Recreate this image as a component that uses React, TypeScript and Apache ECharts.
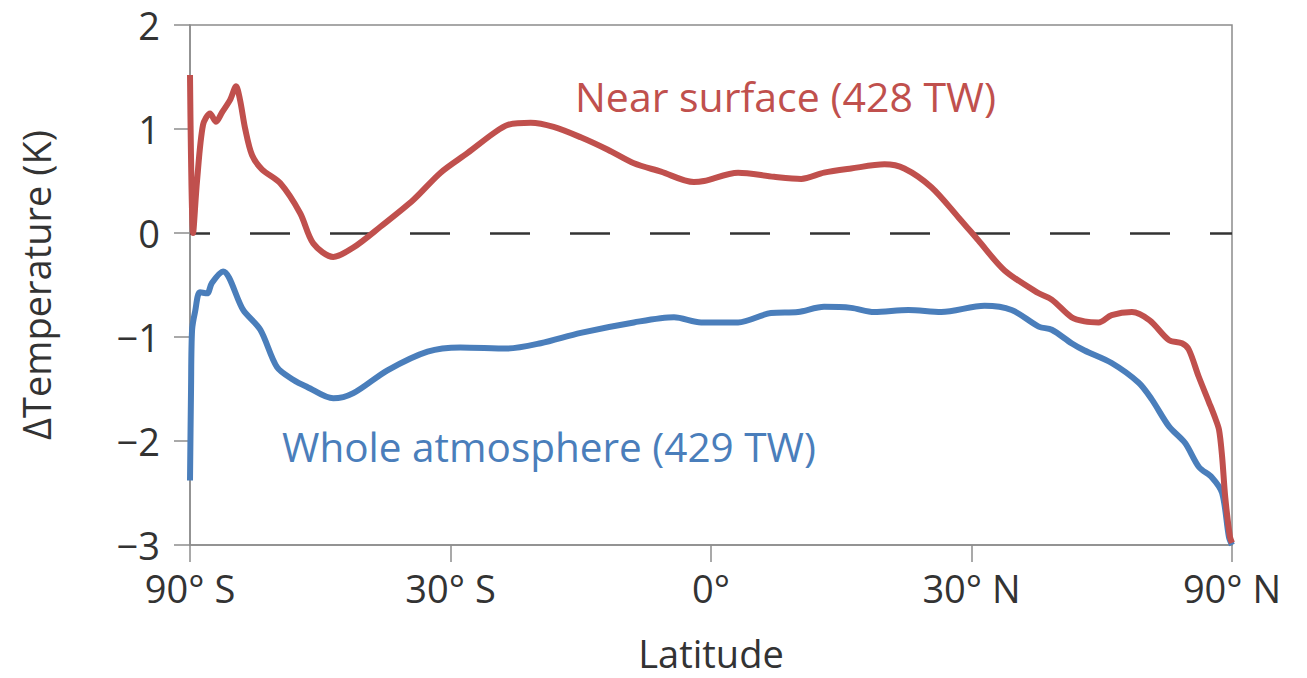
import React, { useEffect, useRef } from "react";
import * as echarts from "echarts";

// x positions are sin(latitude): the axis is area-weighted (sine of latitude)
const xTickLabels: Record<string, string> = {
  "-1": "90° S",
  "-0.5": "30° S",
  "0": "0°",
  "0.5": "30° N",
  "1": "90° N",
};

const nearSurfaceSinLat = [
  -1.0, -0.994, -0.9865, -0.975, -0.9615, -0.95, -0.9385, -0.923, -0.9115, -0.904,
  -0.894, -0.881, -0.8615, -0.827, -0.7885, -0.7635, -0.725, -0.6865, -0.6346, -0.571,
  -0.519, -0.467, -0.417, -0.39, -0.346, -0.302, -0.25, -0.198, -0.148, -0.096,
  -0.033, -0.0135, 0.052, 0.121, 0.173, 0.217, 0.269, 0.333, 0.371, 0.423,
  0.475, 0.513, 0.5635, 0.629, 0.654, 0.692, 0.717, 0.744, 0.769, 0.808,
  0.842, 0.879, 0.904, 0.917, 0.936, 0.956, 0.967, 0.975, 0.981, 0.987,
  0.996, 1.0,
];
const nearSurfaceDT = [
  1.52, 0.0, 0.5, 1.04, 1.15, 1.07, 1.16, 1.28, 1.41, 1.28,
  1.0, 0.75, 0.61, 0.48, 0.19, -0.1, -0.23, -0.14, 0.06, 0.32,
  0.58, 0.77, 0.96, 1.04, 1.06, 1.02, 0.92, 0.8, 0.67, 0.59,
  0.49, 0.5, 0.58, 0.54, 0.52, 0.58, 0.62, 0.66, 0.62, 0.44,
  0.15, -0.07, -0.36, -0.58, -0.64, -0.81, -0.85, -0.86, -0.79, -0.76,
  -0.84, -1.03, -1.06, -1.12, -1.38, -1.63, -1.77, -1.89, -2.15, -2.54,
  -2.92, -2.98,
];

const wholeAtmosphereSinLat = [
  -1.0, -0.998, -0.996, -0.99, -0.981, -0.967, -0.958, -0.9365, -0.898, -0.865,
  -0.833, -0.802, -0.775, -0.725, -0.6865, -0.621, -0.544, -0.481, -0.39, -0.327,
  -0.25, -0.148, -0.071, -0.019, 0.052, 0.115, 0.167, 0.217, 0.269, 0.313,
  0.379, 0.442, 0.525, 0.577, 0.629, 0.654, 0.692, 0.717, 0.769, 0.821,
  0.846, 0.879, 0.91, 0.9365, 0.9615, 0.981, 0.994, 1.0,
];
const wholeAtmosphereDT = [
  -2.38, -1.5, -0.93, -0.75, -0.57, -0.58, -0.48, -0.37, -0.74, -0.93,
  -1.29, -1.41, -1.48, -1.59, -1.54, -1.32, -1.14, -1.1, -1.11, -1.06,
  -0.96, -0.86, -0.81, -0.86, -0.86, -0.77, -0.76, -0.71, -0.72, -0.76,
  -0.74, -0.76, -0.7, -0.74, -0.9, -0.93, -1.06, -1.13, -1.25, -1.44,
  -1.6, -1.86, -2.02, -2.25, -2.35, -2.5, -2.92, -3.0,
];

const RED = "#c0504d";
const BLUE = "#4a7ebb";
const FONT = "'Open Sans', 'Noto Sans', sans-serif";
const AXIS_COLOR = "#8c8c8c";
const TEXT_COLOR = "#333333";

export default function App() {
  const ref = useRef<HTMLDivElement>(null);

  useEffect(() => {
    if (!ref.current) return;
    const chart = echarts.init(ref.current, undefined, { renderer: "svg" });
    const near = nearSurfaceSinLat.map((x, i) => [x, nearSurfaceDT[i]]);
    const whole = wholeAtmosphereSinLat.map((x, i) => [x, wholeAtmosphereDT[i]]);

    chart.setOption({
      animation: false,
      backgroundColor: "#ffffff",
      textStyle: { fontFamily: FONT },
      grid: {
        left: 190,
        right: 75,
        top: 25,
        bottom: 133,
        show: true,
        borderColor: AXIS_COLOR,
        borderWidth: 1.5,
        backgroundColor: "transparent",
      },
      xAxis: {
        type: "value",
        min: -1,
        max: 1,
        interval: 0.5,
        name: "Latitude",
        nameLocation: "middle",
        nameGap: 88,
        nameTextStyle: { fontSize: 38, lineHeight: 40, color: TEXT_COLOR, fontFamily: FONT },
        axisLine: { show: true, onZero: false, lineStyle: { color: AXIS_COLOR, width: 1.5 } },
        axisTick: { show: true, length: 17, lineStyle: { color: AXIS_COLOR, width: 1.5 } },
        axisLabel: {
          fontSize: 38,
          color: TEXT_COLOR,
          margin: 24,
          fontFamily: FONT,
          formatter: (v: number) => xTickLabels[String(v)] ?? "",
        },
        splitLine: { show: false },
      },
      yAxis: {
        type: "value",
        min: -3,
        max: 2,
        interval: 1,
        name: "ΔTemperature (K)",
        nameLocation: "middle",
        nameGap: 135,
        nameTextStyle: { fontSize: 38, color: TEXT_COLOR, fontFamily: FONT },
        axisLine: { show: true, onZero: false, lineStyle: { color: AXIS_COLOR, width: 1.5 } },
        axisTick: { show: true, length: 16, lineStyle: { color: AXIS_COLOR, width: 1.5 } },
        axisLabel: {
          fontSize: 38,
          color: TEXT_COLOR,
          margin: 30,
          fontFamily: FONT,
          formatter: (v: number) => (v < 0 ? "\u2212" + Math.abs(v) : String(v)),
        },
        splitLine: { show: false },
      },
      series: [
        {
          type: "line",
          name: "Whole atmosphere (429 TW)",
          data: whole,
          showSymbol: false,
          symbol: "none",
          smooth: 0.3,
          lineStyle: { color: BLUE, width: 6 },
          itemStyle: { color: BLUE },
          z: 3,
          markLine: {
            silent: true,
            symbol: ["none", "none"],
            label: { show: false },
            lineStyle: { color: "#333333", width: 2.5, type: [40, 40], dashOffset: 20 },
            data: [{ yAxis: 0 }],
            z: 1,
          },
        },
        {
          type: "line",
          name: "Near surface (428 TW)",
          data: near,
          showSymbol: false,
          symbol: "none",
          smooth: 0.3,
          lineStyle: { color: RED, width: 6 },
          itemStyle: { color: RED },
          z: 4,
        },
      ],
      graphic: [
        {
          type: "text",
          left: 575,
          top: 75,
          style: { text: "Near surface (428 TW)", fontSize: 41, fill: RED, fontFamily: FONT },
        },
        {
          type: "text",
          left: 282,
          top: 426,
          style: { text: "Whole atmosphere (429 TW)", fontSize: 40.5, fill: BLUE, fontFamily: FONT },
        },
      ],
    });

    return () => chart.dispose();
  }, []);

  return (
    <div
      ref={ref}
      style={{ position: "absolute", left: 0, top: 0, width: 1307, height: 678, background: "#fff" }}
    />
  );
}
